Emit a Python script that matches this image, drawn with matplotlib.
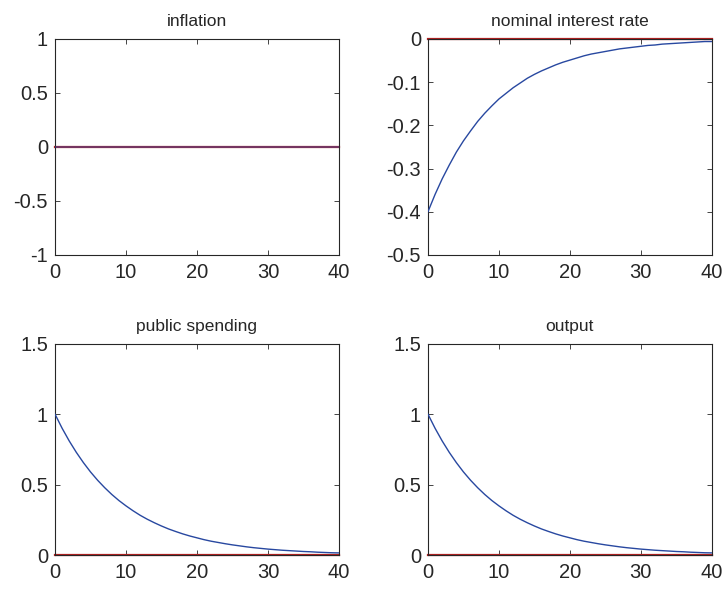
import matplotlib
matplotlib.use("Agg")
import matplotlib.pyplot as plt
import numpy as np

plt.rcParams['font.family'] = ['Liberation Sans', 'DejaVu Sans']

# horizon (periods)
t = list(range(41))

# impulse responses
inflation = [0.0] * 41
interest = [-0.400, -0.360, -0.324, -0.292, -0.262, -0.236, -0.213, -0.191,
            -0.172, -0.155, -0.139, -0.126, -0.113, -0.102, -0.091, -0.082,
            -0.074, -0.067, -0.060, -0.054, -0.049, -0.044, -0.039, -0.035,
            -0.032, -0.029, -0.026, -0.023, -0.021, -0.019, -0.017, -0.015,
            -0.014, -0.012, -0.011, -0.010, -0.009, -0.008, -0.007, -0.006,
            -0.006]
spending = [1.000, 0.900, 0.810, 0.729, 0.656, 0.590, 0.531, 0.478, 0.430,
            0.387, 0.349, 0.314, 0.282, 0.254, 0.229, 0.206, 0.185, 0.167,
            0.150, 0.135, 0.122, 0.109, 0.098, 0.089, 0.080, 0.072, 0.065,
            0.058, 0.052, 0.047, 0.042, 0.038, 0.034, 0.031, 0.028, 0.025,
            0.023, 0.020, 0.018, 0.016, 0.015]
output = [1.000, 0.900, 0.810, 0.729, 0.656, 0.590, 0.531, 0.478, 0.430,
          0.387, 0.349, 0.314, 0.282, 0.254, 0.229, 0.206, 0.185, 0.167,
          0.150, 0.135, 0.122, 0.109, 0.098, 0.089, 0.080, 0.072, 0.065,
          0.058, 0.052, 0.047, 0.042, 0.038, 0.034, 0.031, 0.028, 0.025,
          0.023, 0.020, 0.018, 0.016, 0.015]

titles = ['inflation', 'nominal interest rate', 'public spending', 'output']
series = [inflation, interest, spending, output]
ylims = [(-1, 1), (-0.5, 0), (0, 1.5), (0, 1.5)]
yticks = [[-1, -0.5, 0, 0.5, 1],
          [-0.5, -0.4, -0.3, -0.2, -0.1, 0],
          [0, 0.5, 1, 1.5],
          [0, 0.5, 1, 1.5]]
xticks = [0, 10, 20, 30, 40]

# axes boxes [left, bottom, width, height] in figure fractions
boxes = [[0.0758, 0.568, 0.391, 0.366],
         [0.5895, 0.568, 0.391, 0.366],
         [0.0758, 0.0593, 0.391, 0.358],
         [0.5895, 0.0593, 0.391, 0.358]]

fig = plt.figure(figsize=(7.26, 5.90), dpi=100)

for i in range(4):
    ax = fig.add_axes(boxes[i])
    ax.plot(t, [0] * len(t), color='#b02020', lw=1.6, clip_on=False, zorder=2)
    if i == 0:
        ax.plot(t, series[i], color='#3050b0', lw=1.2, alpha=0.55, zorder=3)
    else:
        ax.plot(t, series[i], color='#2848a0', lw=1.0, zorder=3)
    ax.set_xlim(0, 40)
    ax.set_ylim(*ylims[i])
    ax.set_xticks(xticks)
    ax.set_yticks(yticks[i])
    ax.set_yticklabels([('%g' % v) for v in yticks[i]])
    ax.tick_params(direction='in', top=True, right=True, labelsize=14.5,
                   length=3.5, width=0.6, colors='#262626')
    ax.tick_params(axis='x', pad=6)
    ax.tick_params(axis='y', pad=5)
    for s in ax.spines.values():
        s.set_linewidth(0.8)
        s.set_color('#262626')
    ax.set_title(titles[i], fontsize=12.5, color='#262626', pad=9)

fig.savefig('out.png', dpi=100, facecolor='white')
